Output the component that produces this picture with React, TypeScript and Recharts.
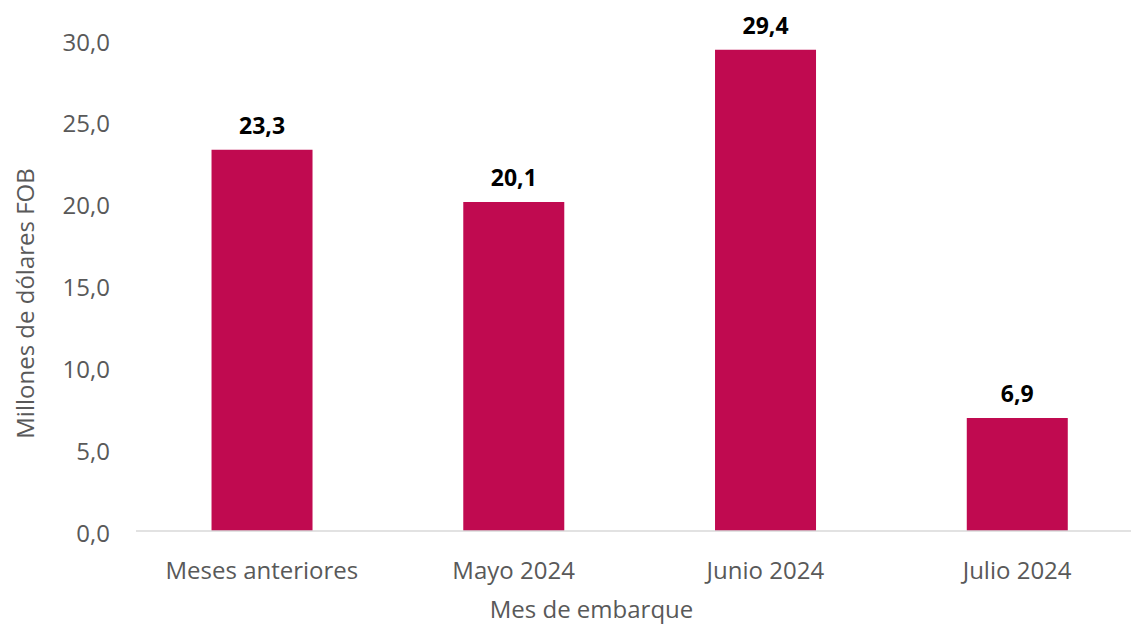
import { Bar, BarChart, LabelList, XAxis, YAxis, Label } from "recharts";

const categories = ["Meses anteriores", "Mayo 2024", "Junio 2024", "Julio 2024"];
const values = [23.3, 20.1, 29.4, 6.9];
const yTicks = [0, 5, 10, 15, 20, 25, 30];

const data = categories.map((mes, i) => ({ mes, valor: values[i] }));

const FONT = "'Open Sans', 'Noto Sans', sans-serif";
const BAR_COLOUR = "#C00A50";
const TEXT_GREY = "#595959";

const fmt = (v: number) => v.toFixed(1).replace(".", ",");

export default function App() {
  return (
    <div
      style={{
        position: "fixed",
        top: 0,
        left: 0,
        width: 1131,
        height: 627,
        overflow: "hidden",
        background: "#fff",
        fontFamily: FONT,
      }}
    >
      <BarChart
        width={1150}
        height={627}
        data={data}
        margin={{ top: 40, right: 7, bottom: 0, left: 0 }}
        barCategoryGap="30%"
      >
        <XAxis
          dataKey="mes"
          height={96}
          tickLine={false}
          tickSize={0}
          tickMargin={31}
          axisLine={{ stroke: "#D9D9D9", strokeWidth: 1.5 }}
          tick={{ fill: TEXT_GREY, fontSize: 24, fontFamily: FONT }}
        >
          <Label
            content={({ viewBox }: any) => (
              <text
                x={viewBox.x + viewBox.width / 2 - 48}
                y={viewBox.y + viewBox.height - 9}
                textAnchor="middle"
                fill={TEXT_GREY}
                fontSize={24}
                fontFamily={FONT}
              >
                Mes de embarque
              </text>
            )}
          />
        </XAxis>
        <YAxis
          width={136}
          domain={[0, 30]}
          ticks={yTicks}
          interval={0}
          tickFormatter={fmt}
          axisLine={false}
          tickLine={false}
          tickSize={0}
          tickMargin={26}
          tick={{ fill: TEXT_GREY, fontSize: 24, fontFamily: FONT, dy: 2 }}
        >
          <Label
            content={({ viewBox }: any) => {
              const cx = 24;
              const cy = viewBox.y + viewBox.height / 2 + 18;
              return (
                <text
                  x={cx}
                  y={cy}
                  transform={`rotate(-90 ${cx} ${cy})`}
                  textAnchor="middle"
                  dominantBaseline="central"
                  fill={TEXT_GREY}
                  fontSize={24}
                  fontFamily={FONT}
                >
                  Millones de dólares FOB
                </text>
              );
            }}
          />
        </YAxis>
        <Bar dataKey="valor" fill={BAR_COLOUR} isAnimationActive={false}>
          <LabelList
            dataKey="valor"
            position="top"
            offset={16}
            formatter={(v: any) => fmt(Number(v))}
            style={{ fill: "#000", fontSize: 23, fontWeight: 700, fontFamily: FONT }}
          />
        </Bar>
      </BarChart>
    </div>
  );
}
